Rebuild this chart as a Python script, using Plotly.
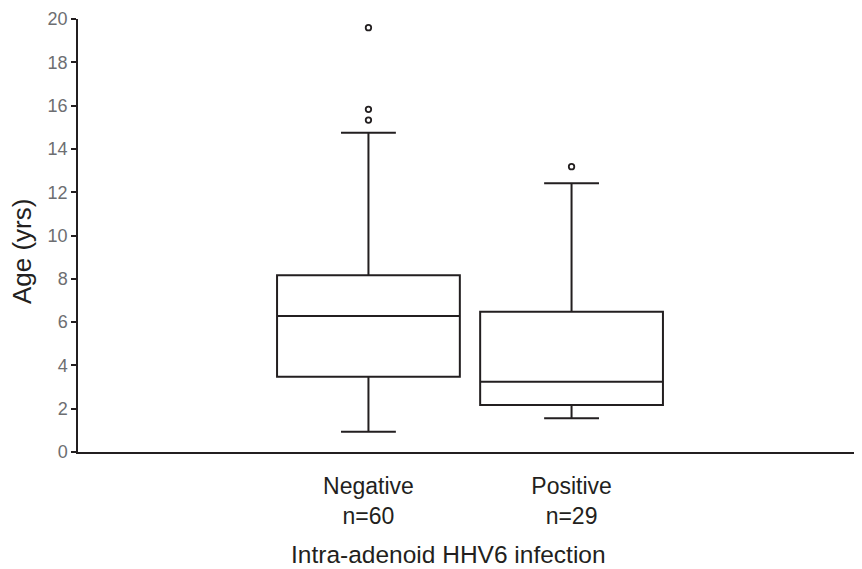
import plotly.graph_objects as go

categories = ["Negative<br>n=60", "Positive<br>n=29"]
positions = [0, 1]
q1 = [3.48, 2.17]
median = [6.28, 3.25]
q3 = [8.16, 6.48]
lowerfence = [0.94, 1.56]
upperfence = [14.75, 12.41]
outlier_x = [0, 0, 0, 1]
outlier_y = [19.6, 15.83, 15.33, 13.18]
x_title = "Intra-adenoid HHV6 infection"
y_title = "Age (yrs)"

line_col = "#231f20"
fig = go.Figure()
fig.add_trace(go.Box(
    x=positions, q1=q1, median=median, q3=q3,
    lowerfence=lowerfence, upperfence=upperfence,
    width=0.9, whiskerwidth=0.3, boxpoints=False,
    fillcolor="white", line=dict(color=line_col, width=2),
    showlegend=False, hoverinfo="skip",
))
fig.add_trace(go.Scatter(
    x=outlier_x, y=outlier_y, mode="markers",
    marker=dict(symbol="circle-open", size=5.5, color=line_col, line=dict(width=1.8)),
    showlegend=False,
))

fig.update_layout(
    width=854, height=561,
    margin=dict(l=70, r=0, t=11, b=117),
    plot_bgcolor="white", paper_bgcolor="white",
    font=dict(family="Liberation Sans, Arial, sans-serif", color=line_col),
    annotations=[
        dict(text=x_title, xref="paper", yref="paper", x=0.4726, y=-0.237,
             xanchor="center", yanchor="middle", showarrow=False,
             font=dict(size=24.5, color=line_col)),
        dict(text=y_title, xref="paper", yref="paper", x=-0.0715, y=0.464,
             xanchor="center", yanchor="middle", showarrow=False, textangle=-90,
             font=dict(size=26, color=line_col)),
    ],
)
fig.update_xaxes(
    range=[-1.43, 2.43], tickvals=positions, ticktext=categories,
    showgrid=False, zeroline=False, showline=True, linecolor=line_col, linewidth=1.5,
    ticks="outside", ticklen=13, tickcolor="rgba(0,0,0,0)",
    tickfont=dict(size=23, color=line_col),
)
fig.update_yaxes(
    range=[0, 20], tickvals=list(range(0, 21, 2)),
    showgrid=False, zeroline=False, showline=True, linecolor=line_col, linewidth=1.5,
    ticks="outside", ticklen=5, tickcolor=line_col, tickwidth=1.5,
    tickfont=dict(size=18, color="#6d6e71"),
)
fig.write_html("out.html")
